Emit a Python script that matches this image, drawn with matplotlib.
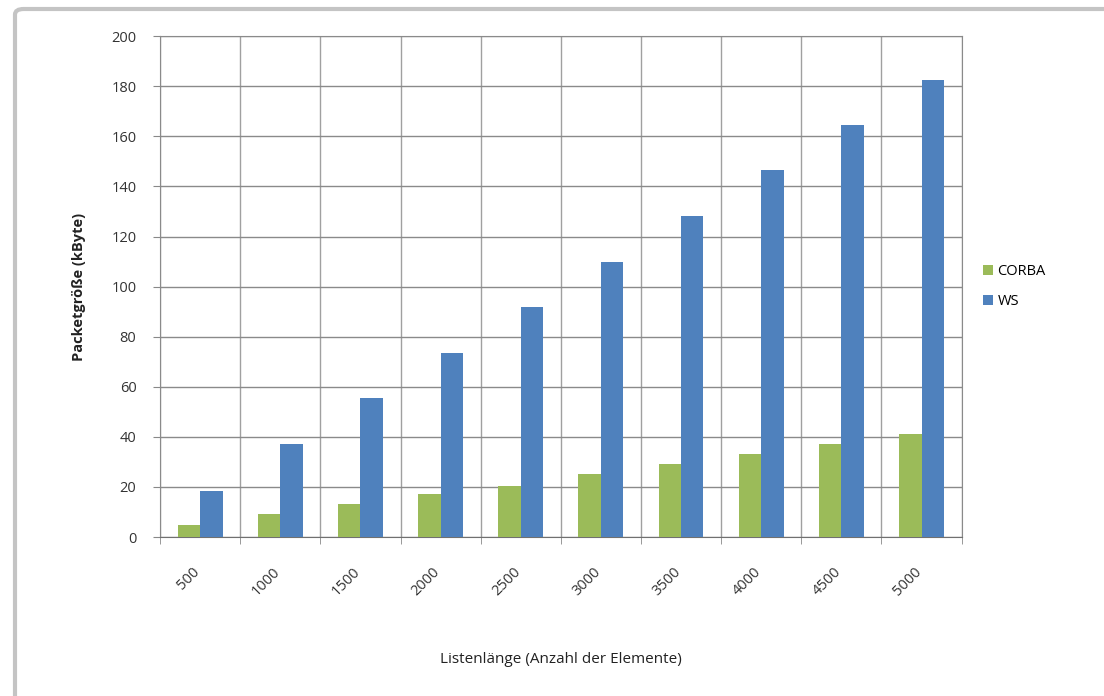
import numpy as np
import matplotlib.pyplot as plt
import matplotlib.transforms as mtransforms
from matplotlib.patches import FancyBboxPatch

listen = ["500", "1000", "1500", "2000", "2500", "3000", "3500", "4000", "4500", "5000"]
corba = [5, 9, 13, 17, 20.5, 25, 29, 33, 37, 41]
ws = [18.5, 37, 55.5, 73.5, 92, 110, 128, 146.5, 164.5, 182.5]

plt.rcParams['font.family'] = ['Open Sans', 'DejaVu Sans']

fig = plt.figure(figsize=(11.04, 6.96), dpi=100)
fig.patch.set_facecolor('white')

# chart border, only its left and top edges fall inside the image
x0, ytop = 15 / 1104, 1 - 9 / 696
border = FancyBboxPatch((x0, -0.1), 1.2, ytop + 0.1, boxstyle="round,pad=0,rounding_size=0.008",
                        transform=fig.transFigure, fill=False, edgecolor='#c4c4c4', linewidth=3)
fig.patches.append(border)

ax = fig.add_axes([0.145, 0.2284, 0.726, 0.7196])

x = np.arange(len(listen))
w = 0.28
ax.bar(x - w / 2, corba, w, color='#9bbb59', label='CORBA', zorder=3)
ax.bar(x + w / 2, ws, w, color='#4f81bd', label='WS', zorder=3)

ax.set_xlim(-0.5, len(listen) - 0.5)
ax.set_ylim(0, 200)
ax.set_yticks(np.arange(0, 201, 20))
ax.set_xticks(x)
ax.set_xticklabels(listen, rotation=45, ha='right', rotation_mode='anchor',
                   fontsize=10.5, color='#333333')
ax.tick_params(axis='x', length=0, pad=20)
# nudge the slanted labels a little to the left
shift = mtransforms.ScaledTranslation(-8 / 100, 0, fig.dpi_scale_trans)
for lbl in ax.get_xticklabels():
    lbl.set_transform(lbl.get_transform() + shift)
ax.set_xticks(np.arange(-0.5, len(listen), 1), minor=True)
ax.tick_params(axis='x', which='minor', length=5, color='#888888')
ax.tick_params(axis='y', length=5, color='#888888', labelsize=10.5, labelcolor='#333333', pad=12)

ax.grid(axis='y', which='major', color='#8a8a8a', linewidth=1.0, zorder=0)
ax.grid(axis='x', which='minor', color='#a0a0a0', linewidth=1.0, zorder=0)
for side in ['top', 'right', 'left', 'bottom']:
    ax.spines[side].set_color('#8a8a8a')
ax.spines['bottom'].set_color('#707070')

ax.set_xlabel('Listenlänge (Anzahl der Elemente)', fontsize=11, color='#222222', labelpad=38)
ax.set_ylabel('Packetgröße (kByte)', fontsize=10.5, fontweight='bold', color='#222222', labelpad=18)

ax.legend(loc='center left', bbox_to_anchor=(1.01, 0.5), frameon=False, fontsize=10.5,
          handlelength=0.7, handleheight=0.7, handletextpad=0.3, labelspacing=1.0)

fig.savefig('out.png', dpi=100)
